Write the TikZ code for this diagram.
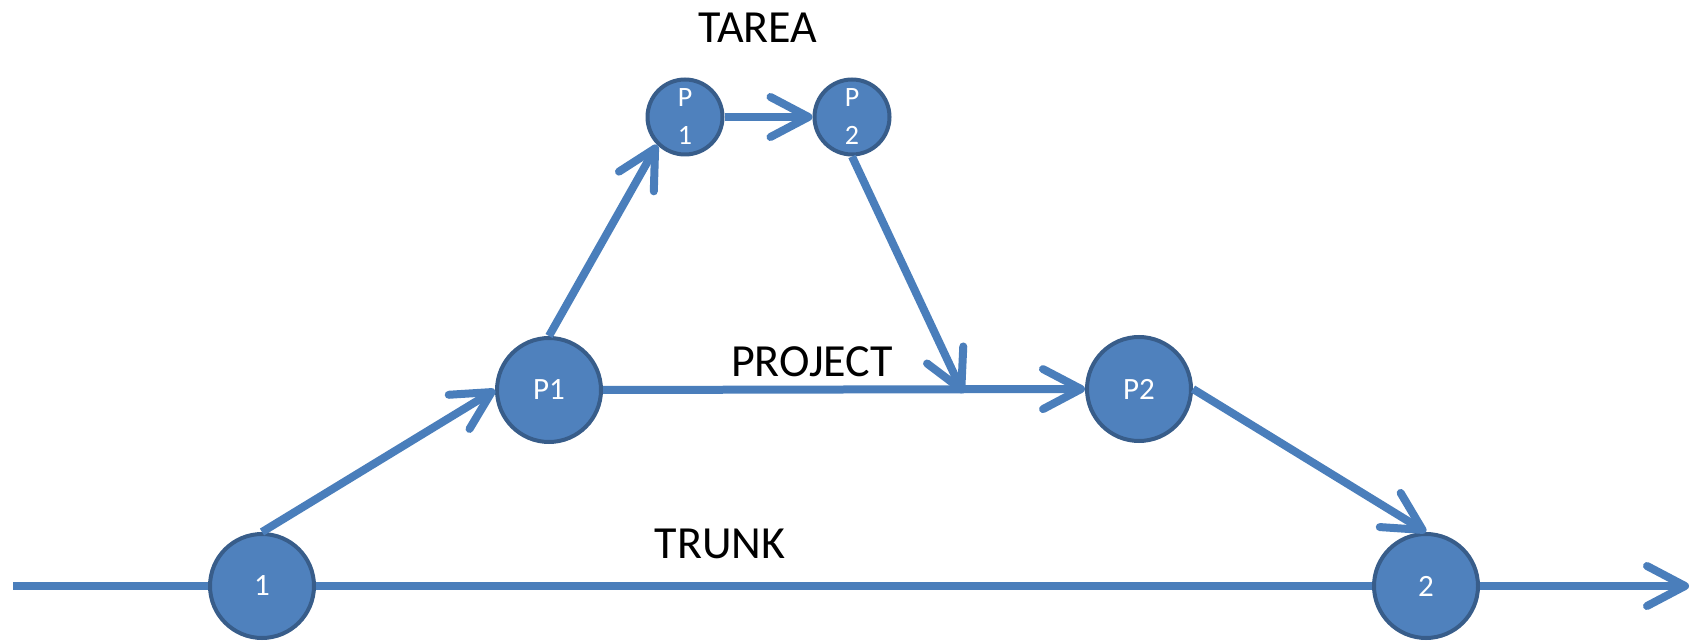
\documentclass[tikz,border=0pt]{standalone}
\usepackage{fontspec}
\setmainfont{Carlito}
\usetikzlibrary{arrows.meta}
\definecolor{nodefill}{HTML}{4F81BD}
\definecolor{nodeborder}{HTML}{385D8A}
\definecolor{linkcol}{HTML}{4A7EBB}
\tikzset{
  bignode/.style={circle, fill=nodefill, draw=nodeborder, line width=2pt,
    minimum size=52pt, inner sep=0pt, text=white, font=\fontsize{15.5}{18}\selectfont},
  smallnode/.style={circle, fill=nodefill, draw=nodeborder, line width=2pt,
    minimum size=37.5pt, inner sep=0pt, text=white, align=center,
    font=\fontsize{14}{19}\selectfont},
  link/.style={draw=linkcol, line width=4pt},
  arrowlink/.style={link, -{Straight Barb[length=19pt,width=20pt,round]}},
  label/.style={anchor=base, font=\fontsize{23}{26}\selectfont, text=black},
}
\begin{document}
\begin{tikzpicture}[x=0.5pt, y=-0.5pt]
\useasboundingbox (0,0) rectangle (1692,641);
% nodes
\node[bignode] (n1) at (262,586) {1};
\node[bignode] (P1) at (549,390) {P1};
\node[bignode] (P2) at (1139,389) {P2};
\node[bignode] (n2) at (1426,586) {2};
\node[smallnode] (p1s) at (685,117) {P\\1};
\node[smallnode] (p2s) at (852,117) {P\\2};
\coordinate (start) at (13,586);
\coordinate (end) at (1689,586);
\coordinate (merge) at (963,393);
% labels
\node[label] (tarea) at (758,43) {TAREA};
\node[label] (project) at (812,377) {PROJECT};
\node[label] (trunk) at (720,558) {TRUNK};
% connectors
\draw[link] (start) -- (n1);
\draw[link] (n1) -- (n2);
\draw[arrowlink] (n2) -- (end);
\draw[arrowlink] (n1.north) -- (P1.west);
\draw[arrowlink] (P1.east) -- (P2.west);
\draw[arrowlink] (P2.east) -- (n2.north);
\draw[arrowlink] (P1.north) -- (p1s.south west);
\draw[arrowlink] (p1s.east) -- (p2s.west);
\draw[arrowlink] (p2s.south) -- (merge);
\end{tikzpicture}
\end{document}
